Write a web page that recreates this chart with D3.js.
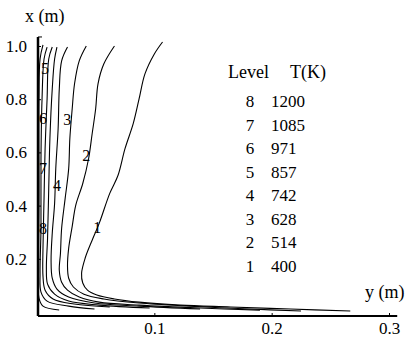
<!DOCTYPE html>
<html>
<head>
<meta charset="utf-8">
<script src="https://cdn.jsdelivr.net/npm/d3@7"></script>
<style>
  body { margin: 0; background: #fff; }
  svg text { font-family: "Liberation Serif", "Times New Roman", Times, "DejaVu Serif", serif !important; fill: #000; }
</style>
</head>
<body>
<div id="chart"></div>
<script>
// contour levels and their temperatures
const levels = [1, 2, 3, 4, 5, 6, 7, 8];
const temps = [400, 514, 628, 742, 857, 971, 1085, 1200];

// contour lines, points are [y (m), x (m)]
const contour1 = [[0.107,1.015],[0.100,0.97],[0.092,0.895],[0.087,0.801],[0.082,0.708],[0.075,0.614],[0.069,0.513],[0.062,0.446],[0.053,0.333],[0.047,0.270],[0.041,0.202],[0.038,0.146],[0.039,0.109],[0.043,0.082],[0.051,0.064],[0.066,0.049],[0.087,0.037],[0.122,0.026],[0.165,0.019],[0.216,0.011],[0.267,0.004]];
const contour2 = [[0.066,1.0],[0.057,0.933],[0.052,0.858],[0.050,0.764],[0.047,0.670],[0.044,0.577],[0.039,0.483],[0.033,0.401],[0.030,0.322],[0.027,0.240],[0.026,0.172],[0.027,0.127],[0.031,0.094],[0.040,0.067],[0.057,0.049],[0.087,0.034],[0.130,0.022],[0.182,0.011],[0.225,0.004]];
const contour3 = [[0.042,1.0],[0.036,0.944],[0.032,0.858],[0.030,0.764],[0.028,0.652],[0.027,0.539],[0.024,0.427],[0.021,0.315],[0.020,0.221],[0.019,0.157],[0.021,0.112],[0.026,0.082],[0.036,0.056],[0.053,0.037],[0.087,0.026],[0.139,0.015],[0.190,0.007]];
const contour4 = [[0.026,0.996],[0.021,0.944],[0.019,0.839],[0.018,0.689],[0.016,0.539],[0.015,0.408],[0.013,0.296],[0.012,0.195],[0.013,0.127],[0.017,0.086],[0.027,0.056],[0.049,0.034],[0.087,0.022],[0.139,0.011]];
const contour5 = [[0.017,0.996],[0.015,0.951],[0.013,0.839],[0.011,0.652],[0.010,0.464],[0.009,0.277],[0.008,0.165],[0.009,0.105],[0.015,0.067],[0.027,0.041],[0.053,0.026],[0.096,0.015]];
const contour6 = [[0.013,0.996],[0.010,0.951],[0.0086,0.801],[0.0069,0.614],[0.006,0.427],[0.0051,0.240],[0.0051,0.135],[0.0069,0.082],[0.0137,0.049],[0.0317,0.030],[0.062,0.019]];
const contour7 = [[0.0086,0.996],[0.006,0.951],[0.0043,0.801],[0.0034,0.577],[0.0034,0.315],[0.0026,0.146],[0.0034,0.075],[0.0086,0.041],[0.027,0.022],[0.049,0.011]];
const contour8 = [[0.0051,1.004],[0.0026,0.951],[0.0017,0.801],[0.0017,0.427],[0.0013,0.165],[0.0017,0.052],[0.0051,0.022],[0.0189,0.0075]];
const contours = [contour1, contour2, contour3, contour4, contour5, contour6, contour7, contour8];

// where each level number sits on its line, [y (m), x (m)]
const labelPos = [[0.0514,0.318],[0.042,0.588],[0.0257,0.723],[0.0171,0.476],[0.0069,0.914],[0.0051,0.727],[0.0051,0.539],[0.0051,0.315]];

const hTicks = [0.1, 0.2, 0.3];
const vTicks = [0.2, 0.4, 0.6, 0.8, 1.0];

const width = 408, height = 341;

const svg = d3.select("#chart").append("svg")
  .attr("width", width)
  .attr("height", height);

const x = d3.scaleLinear().domain([0, 0.3]).range([37, 389]);
const y = d3.scaleLinear().domain([0, 1]).range([312, 46]);

const axisY0 = 316;

// bottom axis
const gx = svg.append("g")
  .attr("transform", "translate(0," + axisY0 + ")")
  .call(d3.axisBottom(x).tickValues(hTicks).tickFormat(d3.format(".1f")).tickSizeInner(-3).tickSizeOuter(0));
gx.select(".domain").remove();
gx.selectAll("line").attr("stroke", "#000");
gx.selectAll("text").attr("font-size", 17).attr("dy", "0.9em");

// left axis
const gy = svg.append("g")
  .attr("transform", "translate(38,0)")
  .call(d3.axisLeft(y).tickValues(vTicks).tickFormat(d3.format(".1f")).tickSizeInner(-3).tickSizeOuter(0).tickPadding(11));
gy.select(".domain").remove();
gy.selectAll("line").attr("stroke", "#000");
gy.selectAll("text").attr("font-size", 17);

// axis lines
svg.append("line")
  .attr("x1", 38).attr("x2", x(0.307))
  .attr("y1", axisY0).attr("y2", axisY0)
  .attr("stroke", "#000").attr("stroke-width", 2);
svg.append("line")
  .attr("x1", 38).attr("x2", 38)
  .attr("y1", axisY0).attr("y2", y(1.034))
  .attr("stroke", "#000").attr("stroke-width", 2.5);
svg.append("line")
  .attr("x1", 38).attr("x2", 42)
  .attr("y1", y(1.034)).attr("y2", y(1.034))
  .attr("stroke", "#000").attr("stroke-width", 1);

// contour lines
const line = d3.line()
  .x(d => x(d[0]))
  .y(d => y(d[1]))
  .curve(d3.curveCatmullRom.alpha(0.5));

svg.append("g").selectAll("path")
  .data(contours)
  .enter()
  .append("path")
  .attr("d", line)
  .attr("fill", "none")
  .attr("stroke", "#000")
  .attr("stroke-width", 1.1);

// level numbers on the lines
svg.append("g").selectAll("text")
  .data(levels)
  .enter()
  .append("text")
  .attr("x", (d, i) => x(labelPos[i][0]))
  .attr("y", (d, i) => y(labelPos[i][1]))
  .attr("dy", "0.35em")
  .attr("text-anchor", "middle")
  .attr("font-size", 16)
  .text(d => d);

// axis titles
svg.append("text").attr("x", 25).attr("y", 22).attr("font-size", 18).text("x (m)");
svg.append("text").attr("x", 365).attr("y", 298).attr("font-size", 18).text("y (m)");

// legend table
const legend = svg.append("g");
legend.append("text").attr("x", 228).attr("y", 78).attr("font-size", 18).text("Level");
legend.append("text").attr("x", 290).attr("y", 78).attr("font-size", 18).text("T(K)");

const rows = levels.slice().reverse();
legend.selectAll(".lv")
  .data(rows)
  .enter()
  .append("text")
  .attr("class", "lv")
  .attr("x", 250)
  .attr("y", (d, i) => 107 + i * 23.5)
  .attr("text-anchor", "middle")
  .attr("font-size", 17)
  .text(d => d);
legend.selectAll(".tv")
  .data(rows)
  .enter()
  .append("text")
  .attr("class", "tv")
  .attr("x", 271)
  .attr("y", (d, i) => 107 + i * 23.5)
  .attr("font-size", 17)
  .text(d => temps[d - 1]);
</script>
</body>
</html>
